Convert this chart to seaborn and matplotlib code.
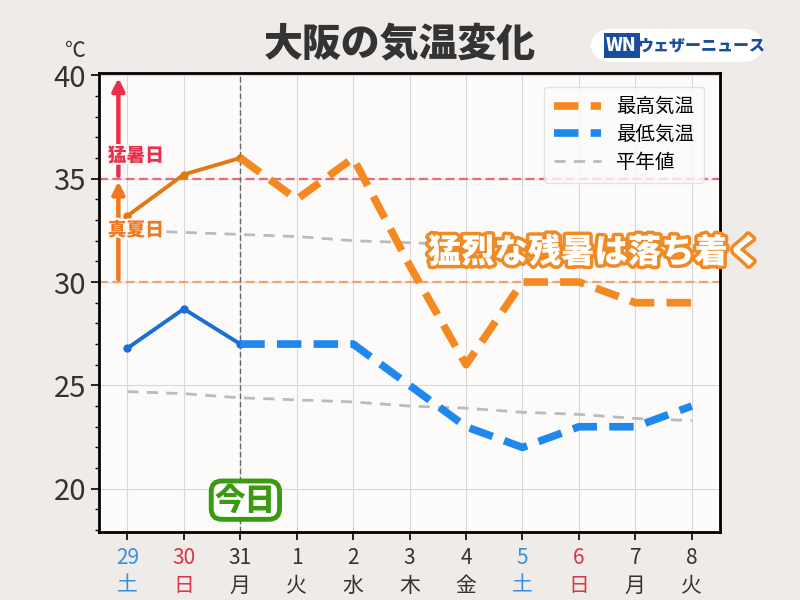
import pandas as pd
import matplotlib.pyplot as plt
import matplotlib.patheffects as pe
from matplotlib.lines import Line2D
from matplotlib.patches import FancyBboxPatch
from matplotlib.ticker import MultipleLocator
import seaborn as sns

days = ['29', '30', '31', '1', '2', '3', '4', '5', '6', '7', '8']
weekdays = ['土', '日', '月', '火', '水', '木', '金', '土', '日', '月', '火']
day_colors = ['#3b8fd9', '#d9364a', '#333333', '#333333', '#333333', '#333333',
              '#333333', '#3b8fd9', '#d9364a', '#333333', '#333333']

max_temp = [33.2, 35.2, 36.0, 34.0, 36.0, 30.8, 26.0, 30.0, 30.0, 29.0, 29.0]
min_temp = [26.8, 28.7, 27.0, 27.0, 27.0, 25.0, 23.0, 22.0, 23.0, 23.0, 24.0]
normal_max = [32.5, 32.4, 32.3, 32.2, 32.0, 31.9, 31.8, 31.7, 31.6, 31.4, 31.3]
normal_min = [24.7, 24.6, 24.4, 24.3, 24.2, 24.0, 23.9, 23.7, 23.6, 23.4, 23.3]

today = 2

df = pd.DataFrame({'x': range(len(days)), 'max': max_temp, 'min': min_temp,
                   'nmax': normal_max, 'nmin': normal_min})
past = df[df['x'] <= today]
future = df[df['x'] >= today]

plt.rcParams['font.family'] = ['Noto Sans CJK JP', 'DejaVu Sans']

fig = plt.figure(figsize=(8, 6), dpi=100)
fig.patch.set_facecolor('#eeebe8')
ax = fig.add_axes([0.124, 0.113, 0.776, 0.765])
ax.set_facecolor('#fdfafa')

# normals
sns.lineplot(x='x', y='nmax', data=df, ax=ax, color='#bbbbbb', lw=2, zorder=2)
sns.lineplot(x='x', y='nmin', data=df, ax=ax, color='#bbbbbb', lw=2, zorder=2)
for l in ax.lines:
    l.set_dashes((4, 3))

# reference lines
ax.axhline(35, color='#ee6677', lw=1.6, ls=(0, (4, 2)), zorder=1)
ax.axhline(30, color='#f4a070', lw=1.6, ls=(0, (4, 2)), zorder=1)
ax.axvline(today, color='#666666', lw=1, ls=(0, (4, 2)), zorder=1)

# past
sns.lineplot(x='x', y='max', data=past, ax=ax, color='#e07a10', lw=2.8,
             marker='o', markersize=6, markeredgewidth=0, zorder=4)
sns.lineplot(x='x', y='min', data=past, ax=ax, color='#1a6fd6', lw=2.8,
             marker='o', markersize=6, markeredgewidth=0, zorder=4)
# forecast
sns.lineplot(x='x', y='max', data=future, ax=ax, color='#f5891f', lw=5.5, zorder=4)
ax.lines[-1].set_dashes((3.2, 1.6))
sns.lineplot(x='x', y='min', data=future, ax=ax, color='#1e88ee', lw=5.5, zorder=4)
ax.lines[-1].set_dashes((3.2, 1.6))

ax.set_xlim(-0.5, 10.5)
ax.set_ylim(17.9, 40.1)
ax.yaxis.set_major_locator(MultipleLocator(5))
ax.yaxis.set_minor_locator(MultipleLocator(1))
ax.set_xticks(range(len(days)))
ax.set_xticklabels([f'{d}\n{w}' for d, w in zip(days, weekdays)], fontsize=15,
                   linespacing=1.3)
for lab, c in zip(ax.get_xticklabels(), day_colors):
    lab.set_color(c)
ax.tick_params(axis='y', labelsize=21, labelcolor='#333333', length=6, width=1.2)
ax.tick_params(axis='y', which='minor', length=3, width=1)
ax.tick_params(axis='x', length=6, width=1.2, pad=5)
ax.set_xlabel('')
ax.set_ylabel('')
ax.grid(True, color='#d8d8d8', lw=0.8)
ax.set_axisbelow(True)
for s in ax.spines.values():
    s.set_linewidth(2)
    s.set_color('black')

fig.text(0.094, 0.905, '℃', fontsize=15, color='#333333', ha='center')

# arrows
ax.annotate('', xy=(-0.16, 40), xytext=(-0.16, 35),
            arrowprops=dict(arrowstyle='-|>', color='#e8304a', lw=3.2, mutation_scale=18))
ax.annotate('', xy=(-0.16, 35), xytext=(-0.16, 30),
            arrowprops=dict(arrowstyle='-|>', color='#f07820', lw=3.2, mutation_scale=18))
ax.text(-0.35, 36.1, '猛暑日', color='#e8304a', fontsize=13.5, fontweight='heavy',
        ha='left', va='center', zorder=6,
        path_effects=[pe.withStroke(linewidth=3, foreground='#fdfafa')])
ax.text(-0.35, 32.5, '真夏日', color='#f07820', fontsize=13.5, fontweight='heavy',
        ha='left', va='center', zorder=6,
        path_effects=[pe.withStroke(linewidth=3, foreground='#fdfafa')])

# today label
ax.text(today + 0.09, 19.45, '今日', color='#3a9a10', fontsize=22, fontweight='heavy',
        ha='center', va='center', zorder=6,
        bbox=dict(boxstyle='round,pad=0.12,rounding_size=0.35', fc='white',
                  ec='#3a9a10', lw=3.5))

# comment
ax.text(8.28, 31.45, '猛烈な残暑は落ち着く', color='white', fontsize=24,
        fontweight='heavy', ha='center', va='center', zorder=7,
        path_effects=[pe.withStroke(linewidth=5, foreground='#f08a24')])

fig.text(0.5, 0.925, '大阪の気温変化', ha='center', va='center', fontsize=28,
         fontweight='heavy', color='#333333')

# logo
fig.patches.append(FancyBboxPatch((0.738, 0.897), 0.217, 0.055,
                                  boxstyle='round,pad=0,rounding_size=0.027',
                                  transform=fig.transFigure, fc='white', ec='none',
                                  mutation_aspect=1.33))
fig.text(0.777, 0.924, 'WN', fontsize=13, fontweight='heavy', color='white',
         style='italic', ha='center', va='center',
         bbox=dict(boxstyle='square,pad=0.15', fc='#1a4d9e', ec='none'))
fig.text(0.877, 0.924, 'ウェザーニュース', fontsize=11.5, fontweight='heavy',
         color='#1a4d9e', ha='center', va='center')

handles = [Line2D([], [], color='#f5891f', lw=5.5, dashes=(3.2, 1.6)),
           Line2D([], [], color='#1e88ee', lw=5.5, dashes=(3.2, 1.6)),
           Line2D([], [], color='#bbbbbb', lw=2, dashes=(4, 3))]
leg = ax.legend(handles, ['最高気温', '最低気温', '平年値'], loc='upper right',
                fontsize=14, frameon=True, fancybox=True, handlelength=2.4,
                borderpad=0.5, labelspacing=0.35, bbox_to_anchor=(0.99, 0.992))
leg.get_frame().set_facecolor('#fdfafa')
leg.get_frame().set_edgecolor('#dddddd')
leg.set_zorder(8)

fig.savefig('out.png', dpi=100, facecolor=fig.get_facecolor())
